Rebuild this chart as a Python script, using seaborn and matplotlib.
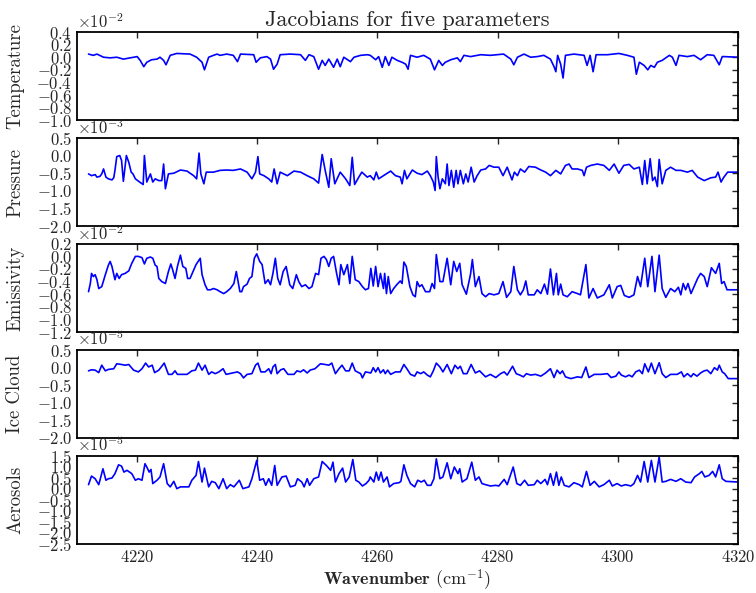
import numpy as np
import pandas as pd
import matplotlib
matplotlib.use("Agg")
import matplotlib.pyplot as plt
import seaborn as sns

# -------------------------------
# Data (values in units of the axis multiplier)
# -------------------------------
wn_temp = [4211.9, 4212.7, 4213.3, 4214.4, 4215.5, 4216.6, 4217.7, 4219.4, 4220.0, 4220.5, 4221.1, 4221.6, 4222.4,
           4223.3, 4223.8, 4224.4, 4224.8, 4225.5, 4226.6, 4228.8, 4229.9, 4230.8, 4231.2, 4231.9, 4232.7, 4233.3,
           4233.8, 4234.9, 4236.0, 4236.7, 4237.2, 4239.4, 4239.8, 4240.5, 4241.6, 4242.2, 4242.7, 4243.3, 4243.8,
           4245.5, 4247.2, 4248.0, 4248.6, 4249.4, 4250.2, 4250.8, 4251.3, 4251.9, 4252.7, 4253.3, 4253.8, 4254.4,
           4255.5, 4256.1, 4257.2, 4258.3, 4258.8, 4259.7, 4260.2, 4260.8, 4261.3, 4261.9, 4262.4, 4263.3, 4264.1,
           4264.7, 4265.1, 4265.5, 4266.6, 4267.7, 4268.8, 4269.5, 4270.2, 4270.8, 4271.3, 4272.2, 4273.3, 4273.8,
           4274.4, 4275.5, 4277.2, 4278.8, 4279.9, 4281.0, 4282.2, 4282.7, 4283.3, 4284.4, 4285.5, 4286.6, 4287.7,
           4288.8, 4289.4, 4289.7, 4290.0, 4290.5, 4290.9, 4291.3, 4292.7, 4294.4, 4294.9, 4295.4, 4295.9, 4296.4,
           4298.3, 4300.2, 4301.6, 4302.7, 4303.1, 4303.6, 4304.4, 4305.0, 4305.5, 4306.1, 4306.6, 4307.4, 4308.0,
           4308.6, 4309.1, 4309.7, 4310.2, 4311.6, 4312.7, 4313.8, 4314.9, 4316.0, 4316.9, 4317.4, 4317.7, 4320.0]
temperature = [0.05, 0.03, 0.05, 0.0, -0.01, 0.0, -0.03, 0.0, 0.01, -0.05, -0.15, -0.08, -0.04,
               -0.03, 0.0, -0.05, -0.12, 0.03, 0.06, 0.05, 0.0, -0.08, -0.20, 0.0, 0.03, 0.05,
               0.03, 0.05, 0.03, -0.07, 0.05, 0.04, -0.08, -0.01, 0.01, -0.03, -0.19, -0.11, 0.04,
               0.05, 0.04, -0.05, 0.04, 0.01, -0.19, -0.05, -0.13, -0.03, -0.16, -0.03, -0.15, 0.0,
               -0.07, 0.0, 0.03, 0.04, 0.03, -0.04, 0.01, -0.16, 0.01, -0.13, 0.0, -0.05, -0.08,
               -0.11, -0.19, 0.03, 0.0, 0.03, -0.03, -0.20, -0.05, -0.13, -0.08, -0.04, -0.01, -0.07,
               0.03, 0.01, 0.04, 0.03, 0.04, 0.05, -0.03, -0.12, 0.0, 0.05, 0.0, 0.01, 0.03,
               -0.03, -0.15, -0.23, 0.03, -0.11, -0.33, 0.03, 0.05, 0.03, -0.13, 0.03, -0.23, 0.04,
               0.04, 0.06, 0.03, 0.0, -0.27, -0.08, -0.13, -0.20, -0.13, -0.16, -0.08, -0.05, -0.01,
               0.03, 0.0, -0.13, 0.03, 0.01, 0.03, -0.04, 0.04, 0.03, -0.12, 0.01, 0.01, 0.0]

wn_pres = [4211.9, 4212.4, 4213.0, 4213.3, 4213.8, 4214.1, 4214.4, 4214.8, 4215.2, 4215.8, 4216.1, 4216.3, 4216.6,
           4217.1, 4217.4, 4217.7, 4218.2, 4218.6, 4219.0, 4219.3, 4219.7, 4220.4, 4221.0, 4221.2, 4221.6, 4222.2,
           4222.6, 4223.0, 4223.6, 4224.1, 4224.4, 4224.7, 4225.2, 4226.1, 4227.2, 4228.3, 4229.4, 4229.9, 4230.3,
           4230.6, 4231.1, 4231.5, 4232.7, 4233.8, 4234.9, 4236.0, 4237.2, 4238.3, 4239.1, 4239.7, 4240.1, 4240.4,
           4241.1, 4241.9, 4242.4, 4242.8, 4243.3, 4243.8, 4245.0, 4246.1, 4247.2, 4248.3, 4249.4, 4250.2, 4250.8,
           4251.3, 4251.9, 4252.3, 4252.9, 4253.8, 4254.7, 4255.4, 4255.8, 4256.2, 4256.9, 4257.4, 4258.3, 4258.8,
           4259.4, 4259.8, 4260.2, 4261.0, 4262.2, 4263.0, 4263.8, 4264.1, 4264.5, 4264.9, 4265.8, 4266.6, 4267.4,
           4268.3, 4268.8, 4269.3, 4269.6, 4269.8, 4270.1, 4270.4, 4270.8, 4271.3, 4271.6, 4271.9, 4272.3, 4272.7,
           4273.1, 4273.4, 4273.8, 4274.3, 4274.7, 4275.1, 4275.6, 4276.1, 4276.6, 4277.2, 4278.0, 4278.6, 4279.4,
           4280.2, 4280.9, 4281.6, 4282.4, 4282.8, 4283.3, 4283.8, 4284.5, 4285.2, 4286.3, 4287.2, 4288.0, 4288.8,
           4289.7, 4290.5, 4291.3, 4291.9, 4292.4, 4293.3, 4294.1, 4294.4, 4294.8, 4295.5, 4296.6, 4297.7, 4298.6,
           4299.4, 4300.2, 4301.0, 4301.9, 4302.7, 4303.6, 4304.1, 4304.5, 4304.9, 4305.4, 4305.8, 4306.2, 4306.6,
           4306.9, 4307.4, 4308.0, 4308.8, 4309.7, 4310.5, 4311.6, 4312.4, 4313.3, 4314.4, 4315.5, 4316.3, 4316.7,
           4317.2, 4317.6, 4318.3, 4320.0]
pressure = [-0.52, -0.57, -0.54, -0.61, -0.59, -0.52, -0.38, -0.61, -0.66, -0.69, -0.63, -0.42, -0.03,
            0.0, -0.14, -0.73, 0.0, -0.19, -0.47, -0.52, -0.66, -0.75, -0.82, 0.0, -0.75, -0.52,
            -0.75, -0.66, -0.71, -0.71, -0.24, -0.94, -0.52, -0.50, -0.41, -0.44, -0.57, -0.66, 0.07,
            -0.52, -0.80, -0.47, -0.47, -0.42, -0.41, -0.42, -0.38, -0.47, -0.66, -0.47, -0.03, -0.52,
            -0.57, -0.66, -0.75, -0.38, -0.80, -0.47, -0.57, -0.44, -0.47, -0.57, -0.66, -0.78, 0.03,
            -0.42, -0.90, -0.09, -0.80, -0.47, -0.66, -0.85, -0.05, -0.82, -0.61, -0.47, -0.61, -0.57,
            -0.69, -0.47, -0.66, -0.57, -0.44, -0.57, -0.61, -0.80, -0.42, -0.66, -0.41, -0.50, -0.54,
            -0.44, -0.57, -0.75, -0.99, -0.03, -0.61, -0.94, -0.66, -0.80, -0.24, -0.85, -0.42, -0.90,
            -0.42, -0.80, -0.42, -0.80, -0.52, -0.75, -0.33, -0.75, -0.57, -0.41, -0.38, -0.28, -0.33,
            -0.33, -0.57, -0.33, -0.69, -0.47, -0.57, -0.38, -0.47, -0.31, -0.33, -0.41, -0.47, -0.57,
            -0.42, -0.52, -0.28, -0.24, -0.38, -0.38, -0.42, -0.57, -0.33, -0.28, -0.24, -0.28, -0.42,
            -0.24, -0.50, -0.28, -0.25, -0.38, -0.33, -0.82, -0.14, -0.80, -0.09, -0.71, -0.61, -0.88,
            -0.11, -0.80, -0.42, -0.33, -0.42, -0.42, -0.47, -0.42, -0.61, -0.71, -0.63, -0.61, -0.47,
            -0.75, -0.63, -0.47, -0.47]

wn_emis = [4211.9, 4212.2, 4212.4, 4212.7, 4213.0, 4213.3, 4213.6, 4214.1, 4214.7, 4215.2, 4215.5, 4215.8, 4216.3,
           4216.6, 4217.0, 4217.4, 4218.0, 4218.6, 4219.1, 4219.7, 4220.2, 4220.8, 4221.2, 4221.6, 4222.2, 4222.6,
           4223.0, 4223.3, 4223.6, 4224.1, 4224.7, 4225.2, 4225.6, 4225.9, 4226.3, 4226.7, 4227.2, 4227.6, 4228.1,
           4228.4, 4228.8, 4229.3, 4229.8, 4230.5, 4230.8, 4231.3, 4231.7, 4232.2, 4232.7, 4233.3, 4233.8, 4234.4,
           4234.9, 4235.5, 4236.1, 4236.5, 4237.1, 4237.4, 4237.7, 4238.3, 4238.7, 4239.1, 4239.5, 4239.9, 4240.4,
           4240.8, 4241.3, 4241.8, 4242.2, 4242.6, 4243.0, 4243.4, 4243.8, 4244.3, 4244.8, 4245.4, 4245.9, 4246.5,
           4246.9, 4247.4, 4248.0, 4248.6, 4249.1, 4249.7, 4250.2, 4250.6, 4251.1, 4251.5, 4251.9, 4252.3, 4252.7,
           4253.2, 4253.6, 4253.9, 4254.4, 4255.0, 4255.4, 4255.8, 4256.3, 4256.9, 4257.5, 4258.0, 4258.5, 4258.9,
           4259.3, 4259.7, 4260.1, 4260.5, 4261.0, 4261.2, 4261.5, 4261.8, 4262.2, 4262.7, 4263.3, 4263.8, 4264.1,
           4264.4, 4264.8, 4265.4, 4265.9, 4266.3, 4266.6, 4267.0, 4267.4, 4268.0, 4268.7, 4269.1, 4269.5, 4269.8,
           4270.4, 4270.9, 4271.6, 4272.2, 4272.7, 4273.2, 4273.7, 4274.1, 4274.8, 4275.5, 4275.8, 4276.3, 4276.9,
           4277.4, 4278.0, 4278.6, 4279.4, 4280.2, 4280.9, 4281.5, 4282.2, 4282.7, 4283.3, 4283.8, 4284.3, 4284.7,
           4285.1, 4286.1, 4286.6, 4287.2, 4287.8, 4288.3, 4288.8, 4289.3, 4289.8, 4290.1, 4290.5, 4290.9, 4291.6,
           4292.4, 4293.3, 4293.8, 4294.7, 4295.2, 4295.9, 4296.6, 4297.7, 4298.6, 4299.1, 4299.9, 4300.5, 4301.1,
           4301.9, 4302.7, 4303.3, 4303.8, 4304.5, 4305.0, 4305.7, 4306.2, 4306.9, 4307.4, 4308.0, 4308.8, 4309.5,
           4310.1, 4310.5, 4310.9, 4311.3, 4311.7, 4312.2, 4312.7, 4313.3, 4313.8, 4314.4, 4314.9, 4315.6, 4316.3,
           4316.9, 4317.3, 4317.7, 4318.2, 4320.0]
emissivity = [-0.56, -0.43, -0.27, -0.32, -0.29, -0.37, -0.51, -0.48, -0.29, -0.14, -0.08, -0.16, -0.37,
              -0.27, -0.35, -0.29, -0.27, -0.23, -0.11, 0.0, 0.0, -0.02, -0.12, -0.03, -0.01, -0.03,
              -0.14, -0.16, -0.35, -0.40, -0.43, -0.24, -0.12, -0.21, -0.35, -0.16, 0.02, -0.16, -0.19,
              -0.35, -0.35, -0.24, -0.13, -0.03, -0.29, -0.45, -0.53, -0.53, -0.51, -0.53, -0.56, -0.59,
              -0.56, -0.51, -0.43, -0.24, -0.56, -0.56, -0.48, -0.44, -0.35, -0.32, -0.03, 0.04, -0.08,
              -0.13, -0.43, -0.37, -0.45, -0.27, -0.03, -0.35, -0.45, -0.24, -0.16, -0.45, -0.51, -0.29,
              -0.40, -0.48, -0.45, -0.51, -0.48, -0.27, -0.29, -0.03, 0.0, -0.05, -0.16, -0.03, 0.0,
              -0.27, -0.45, -0.13, -0.29, -0.13, -0.43, 0.0, -0.37, -0.40, -0.48, -0.53, -0.51, -0.19,
              -0.47, -0.16, -0.48, -0.27, -0.51, -0.27, -0.59, -0.32, -0.59, -0.51, -0.44, -0.39, -0.43,
              -0.09, -0.16, -0.48, -0.61, -0.64, -0.40, -0.48, -0.45, -0.56, -0.56, -0.43, -0.51, 0.03,
              -0.40, -0.40, -0.03, -0.45, -0.08, -0.24, -0.11, -0.45, -0.60, -0.28, -0.05, -0.48, -0.32,
              -0.59, -0.64, -0.59, -0.61, -0.59, -0.40, -0.65, -0.56, -0.16, -0.53, -0.61, -0.53, -0.39,
              -0.61, -0.61, -0.53, -0.59, -0.44, -0.60, -0.20, -0.61, -0.27, -0.61, -0.44, -0.61, -0.64,
              -0.56, -0.59, -0.61, -0.13, -0.66, -0.51, -0.66, -0.61, -0.45, -0.66, -0.48, -0.46, -0.62,
              -0.65, -0.61, -0.32, -0.48, -0.03, -0.48, 0.0, -0.56, 0.02, -0.51, -0.65, -0.51, -0.56,
              -0.49, -0.61, -0.43, -0.53, -0.43, -0.59, -0.48, -0.35, -0.27, -0.32, -0.48, -0.18, -0.27,
              -0.11, -0.43, -0.40, -0.53, -0.53]

wn_ice = [4211.9, 4212.4, 4213.0, 4213.6, 4214.1, 4214.7, 4215.2, 4216.1, 4216.6, 4217.4, 4218.0, 4218.6, 4219.4,
          4220.2, 4220.8, 4221.4, 4221.9, 4222.5, 4222.9, 4223.6, 4224.5, 4225.2, 4225.8, 4226.3, 4226.7, 4228.3,
          4229.1, 4229.7, 4230.2, 4230.8, 4231.3, 4231.9, 4232.4, 4233.0, 4233.6, 4234.3, 4234.8, 4236.7, 4237.2,
          4237.7, 4238.3, 4239.1, 4239.7, 4240.1, 4240.6, 4241.3, 4241.9, 4242.3, 4242.6, 4243.0, 4243.3, 4243.9,
          4244.4, 4245.1, 4246.1, 4246.6, 4247.2, 4247.7, 4248.3, 4248.8, 4249.6, 4250.5, 4251.3, 4251.9, 4252.4,
          4253.0, 4253.6, 4254.1, 4254.7, 4255.3, 4255.8, 4256.3, 4257.2, 4257.5, 4258.0, 4258.9, 4259.3, 4259.7,
          4260.1, 4260.5, 4261.0, 4261.3, 4261.7, 4262.2, 4263.0, 4263.8, 4264.4, 4264.9, 4265.5, 4266.2, 4266.6,
          4267.2, 4267.7, 4268.3, 4268.8, 4269.3, 4269.8, 4270.4, 4270.9, 4271.6, 4272.3, 4272.9, 4273.4, 4273.8,
          4274.3, 4274.9, 4275.6, 4276.3, 4277.0, 4278.0, 4278.8, 4279.7, 4280.5, 4281.1, 4281.6, 4282.5, 4283.1,
          4283.7, 4284.3, 4284.8, 4285.5, 4286.3, 4287.2, 4288.0, 4288.8, 4289.4, 4289.9, 4290.4, 4290.8, 4291.3,
          4292.2, 4293.3, 4294.0, 4294.7, 4295.2, 4296.1, 4297.2, 4298.3, 4298.9, 4299.7, 4300.2, 4300.6, 4301.3,
          4301.9, 4302.4, 4303.0, 4303.6, 4304.1, 4304.5, 4305.1, 4305.6, 4306.2, 4306.9, 4307.4, 4308.0, 4308.8,
          4309.9, 4310.6, 4311.0, 4311.6, 4312.2, 4312.6, 4313.2, 4313.8, 4314.4, 4314.9, 4315.5, 4316.1, 4316.6,
          4316.9, 4317.4, 4317.8, 4318.4, 4320.0]
ice_cloud = [-0.10, -0.07, -0.08, -0.15, 0.06, -0.10, -0.06, -0.04, 0.10, 0.08, 0.06, 0.08, -0.08,
             -0.13, -0.04, 0.12, 0.01, 0.06, -0.15, -0.08, 0.12, -0.20, -0.20, -0.10, -0.20, -0.20,
             -0.10, -0.08, 0.12, -0.08, 0.06, -0.20, -0.13, -0.18, -0.13, -0.04, -0.20, -0.13, -0.18,
             -0.30, -0.20, -0.18, 0.06, 0.12, -0.13, -0.13, -0.04, -0.18, 0.01, 0.08, -0.18, -0.07,
             -0.04, -0.20, -0.20, -0.10, -0.13, -0.07, -0.16, -0.08, -0.04, 0.10, 0.08, 0.06, 0.12,
             -0.18, -0.04, 0.06, -0.10, -0.10, 0.12, -0.10, -0.18, -0.30, -0.13, -0.16, -0.01, -0.13,
             -0.01, -0.16, -0.07, -0.18, -0.08, -0.20, -0.13, -0.13, 0.08, -0.04, -0.20, -0.25, -0.13,
             -0.18, -0.13, -0.22, -0.27, -0.10, 0.12, 0.01, -0.13, 0.08, -0.18, 0.06, -0.04, 0.03,
             -0.18, -0.18, 0.08, -0.16, -0.10, -0.27, -0.20, -0.29, -0.18, -0.13, -0.22, 0.03, -0.18,
             -0.22, -0.27, -0.18, -0.22, -0.20, -0.25, -0.16, -0.04, -0.29, -0.08, -0.18, -0.10, -0.27,
             -0.32, -0.27, -0.29, 0.01, -0.29, -0.20, -0.20, -0.18, -0.29, -0.25, -0.13, -0.22, -0.27,
             -0.22, -0.27, -0.13, -0.08, -0.18, 0.10, -0.13, 0.12, -0.18, 0.13, -0.18, -0.29, -0.20,
             -0.20, -0.13, -0.27, -0.18, -0.27, -0.18, -0.25, -0.16, -0.10, -0.08, -0.18, -0.01, -0.08,
             0.06, -0.13, -0.18, -0.32, -0.32]

wn_aero = [4211.9, 4212.4, 4213.0, 4213.6, 4213.8, 4214.3, 4214.8, 4215.2, 4215.8, 4216.3, 4216.9, 4217.4, 4217.8,
           4218.3, 4219.1, 4219.7, 4220.2, 4220.8, 4221.3, 4221.6, 4222.0, 4222.3, 4222.6, 4223.3, 4223.8, 4224.4,
           4225.0, 4225.5, 4226.1, 4226.6, 4227.2, 4228.6, 4229.1, 4229.8, 4230.2, 4230.8, 4231.2, 4231.9, 4232.4,
           4233.0, 4233.6, 4234.3, 4234.9, 4235.5, 4236.1, 4237.0, 4237.6, 4238.6, 4239.1, 4239.9, 4240.4, 4241.0,
           4241.4, 4241.9, 4242.4, 4242.9, 4243.3, 4244.1, 4244.8, 4245.5, 4246.3, 4246.7, 4247.4, 4247.8, 4248.3,
           4248.7, 4249.4, 4250.2, 4250.8, 4251.5, 4252.2, 4252.6, 4253.0, 4253.6, 4254.2, 4254.7, 4255.3, 4255.9,
           4256.4, 4256.9, 4257.5, 4258.1, 4258.6, 4258.8, 4259.4, 4259.8, 4260.2, 4260.6, 4261.0, 4261.6, 4262.0,
           4262.7, 4263.6, 4263.9, 4264.4, 4264.9, 4265.5, 4266.2, 4266.7, 4267.3, 4267.8, 4268.3, 4268.9, 4269.4,
           4269.8, 4270.4, 4270.9, 4271.6, 4272.2, 4272.8, 4273.4, 4273.7, 4274.1, 4274.9, 4275.7, 4276.3, 4276.9,
           4277.4, 4278.0, 4278.8, 4279.7, 4280.2, 4281.1, 4281.6, 4282.6, 4283.2, 4283.8, 4284.5, 4285.1, 4286.1,
           4286.6, 4287.2, 4287.9, 4288.3, 4288.8, 4289.3, 4289.8, 4290.2, 4290.6, 4291.1, 4291.9, 4292.7, 4293.6,
           4294.1, 4294.8, 4295.4, 4296.1, 4296.9, 4297.7, 4298.6, 4299.1, 4299.9, 4300.6, 4301.3, 4302.2, 4302.7,
           4303.3, 4303.8, 4304.4, 4305.0, 4305.6, 4306.2, 4306.9, 4307.4, 4308.0, 4308.8, 4309.7, 4310.5, 4311.3,
           4312.2, 4312.8, 4313.6, 4314.0, 4314.5, 4315.2, 4315.8, 4316.3, 4316.9, 4317.4, 4318.0, 4320.0]
aerosols = [0.18, 0.57, 0.45, 0.18, 0.38, 0.90, 0.38, 0.45, 0.48, 0.68, 1.08, 1.02, 0.75,
            0.83, 0.68, 0.38, 0.45, 0.38, 1.13, 0.98, 0.75, 0.87, 0.23, 0.38, 0.53, 1.13,
            0.23, 0.08, 0.33, 0.0, 0.08, 0.08, 0.38, 0.60, 1.23, 0.30, 0.93, 0.08, 0.33,
            0.27, 0.0, 0.45, 0.0, 0.18, 0.08, 0.38, 0.0, 0.08, 0.45, 1.28, 0.38, 0.45,
            0.15, 0.45, 0.15, 1.05, 0.15, 0.53, 0.57, 0.08, 0.15, 0.45, 0.30, 0.08, 0.45,
            0.15, 0.45, 0.53, 1.23, 1.05, 0.83, 1.20, 0.30, 0.68, 0.93, 0.30, 0.53, 1.32,
            0.38, 0.30, 0.12, 0.23, 0.38, 0.53, 0.30, 0.75, 0.38, 0.75, 0.30, 0.53, 0.08,
            0.23, 0.27, 0.33, 1.08, 0.60, 0.23, 0.08, 0.38, 0.30, 0.38, 0.15, 0.15, 0.45,
            1.35, 0.45, 0.53, 1.17, 0.45, 0.98, 0.68, 0.90, 0.30, 0.45, 1.20, 0.38, 0.53,
            0.23, 0.18, 0.12, 0.15, 0.12, 0.42, 0.18, 0.98, 0.23, 0.15, 0.38, 0.15, 0.18,
            0.38, 0.23, 0.42, 0.18, 0.68, 0.15, 0.75, 0.15, 0.53, 0.15, 0.08, 0.27, 0.18,
            0.08, 0.78, 0.15, 0.33, 0.08, 0.18, 0.38, 0.12, 0.23, 0.12, 0.18, 0.12, 0.23,
            0.60, 0.30, 1.23, 0.30, 1.28, 0.30, 1.43, 0.30, 0.33, 0.42, 0.33, 0.45, 0.30,
            0.27, 0.53, 0.68, 0.78, 0.53, 0.60, 0.78, 0.53, 1.08, 0.45, 0.33, 0.30]

labels = ["Temperature", "Pressure", "Emissivity", "Ice Cloud", "Aerosols"]
scales = [1e-2, 1e-3, 1e-2, 1e-5, 1e-5]
ylims = [(-1.0, 0.4), (-2.0, 0.5), (-1.2, 0.2), (-2.0, 0.5), (-2.5, 1.5)]
ysteps = [0.2, 0.5, 0.2, 0.5, 0.5]
xticks = [4220, 4240, 4260, 4280, 4300, 4320]

series = [(wn_temp, temperature), (wn_pres, pressure), (wn_emis, emissivity),
          (wn_ice, ice_cloud), (wn_aero, aerosols)]

# -------------------------------
# Style
# -------------------------------
sns.set_style("white")
plt.rcParams['font.family'] = 'serif'
plt.rcParams['font.serif'] = ['cmr10']
plt.rcParams['mathtext.fontset'] = 'cm'
plt.rcParams['axes.formatter.use_mathtext'] = True
plt.rcParams['axes.unicode_minus'] = True

fig, axes = plt.subplots(5, 1, figsize=(7.56, 5.93), dpi=100, sharex=True)
fig.subplots_adjust(left=0.102, right=0.976, top=0.946, bottom=0.083, hspace=0.2)

for ax, (wn, vals), lab, sc, (lo, hi), st in zip(axes, series, labels, scales, ylims, ysteps):
    df = pd.DataFrame({"wavenumber": wn, "value": np.array(vals) * sc})
    sns.lineplot(data=df, x="wavenumber", y="value", ax=ax, color="#0000ff", linewidth=1.2)
    ax.set_xlim(4210, 4320)
    ax.set_ylim(lo * sc, hi * sc)
    ax.set_yticks(np.arange(lo, hi + st / 2, st) * sc)
    ax.ticklabel_format(axis='y', style='sci', scilimits=(0, 0), useMathText=True)
    ax.yaxis.get_offset_text().set_fontsize(12)
    ax.set_ylabel(lab, fontsize=13.5)
    ax.yaxis.set_label_coords(-0.08, 0.5)
    ax.set_xlabel("")
    ax.tick_params(direction='in', top=True, right=True, length=4, width=1, labelsize=12)
    for sp in ax.spines.values():
        sp.set_linewidth(1.3)
        sp.set_color("black")

axes[-1].set_xticks(xticks)
axes[-1].set_xlabel(r"$\mathbf{Wavenumber}$ $(\mathrm{cm}^{-1})$", fontsize=13, labelpad=2)
axes[0].set_title("Jacobians for five parameters", fontsize=16, pad=4)

fig.savefig("out.png", dpi=100)
